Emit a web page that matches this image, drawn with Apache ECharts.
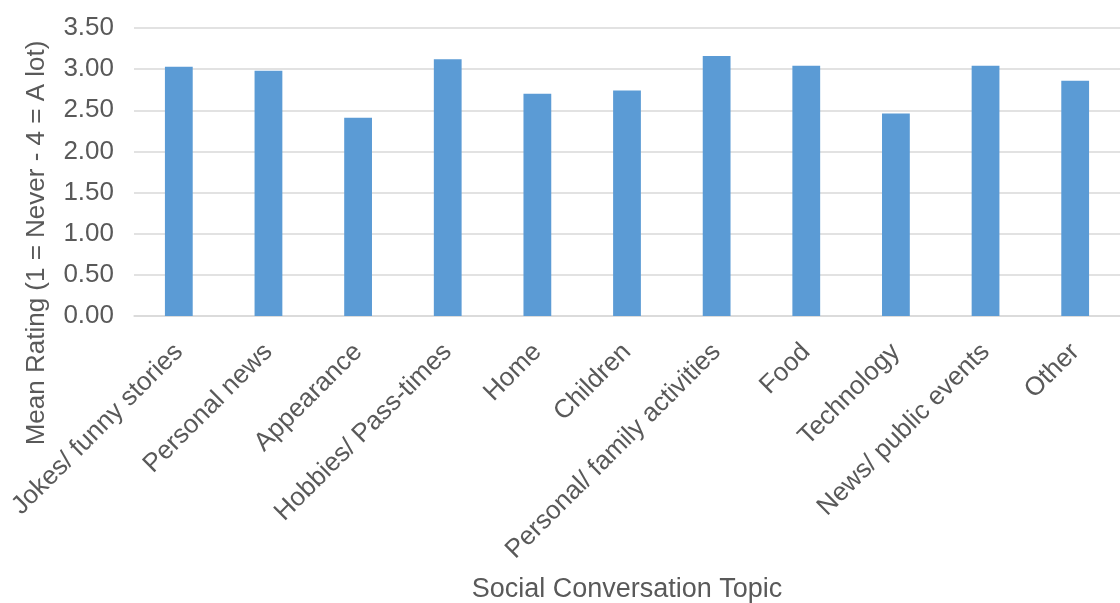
<!DOCTYPE html>
<html>
<head>
<meta charset="utf-8">
<script src="https://cdn.jsdelivr.net/npm/echarts@6/dist/echarts.min.js"></script>
<style>
  html, body { margin: 0; padding: 0; background: #ffffff; }
  #chart { width: 1120px; height: 603px; }
</style>
</head>
<body>
<div id="chart"></div>
<script>
// Social conversation topics and their mean ratings
const topics = [
  'Jokes/ funny stories', 'Personal news', 'Appearance', 'Hobbies/ Pass-times',
  'Home', 'Children', 'Personal/ family activities', 'Food', 'Technology',
  'News/ public events', 'Other'
];
const meanRatings = [3.03, 2.98, 2.41, 3.12, 2.70, 2.74, 3.16, 3.04, 2.46, 3.04, 2.86];

const xTitle = 'Social Conversation Topic';
const yTitle = 'Mean Rating (1 = Never - 4 = A lot)';

const FONT = '"Liberation Sans", Arial, sans-serif';
const TEXT = '#595959';
const GRID = '#d9d9d9';

const chart = echarts.init(document.getElementById('chart'), null, { renderer: 'canvas' });
chart.setOption({
  animation: false,
  backgroundColor: '#ffffff',
  textStyle: { fontFamily: FONT },
  grid: {
    left: 134, right: 0, top: 28, bottom: 287,
    containLabel: false, outerBoundsMode: 'none'
  },
  xAxis: {
    type: 'category',
    data: topics,
    name: xTitle,
    nameLocation: 'middle',
    nameGap: 260,
    nameTextStyle: { fontFamily: FONT, fontSize: 27, color: TEXT },
    axisLine: { lineStyle: { color: GRID, width: 1.5 } },
    axisTick: { show: false },
    axisLabel: {
      rotate: 45, interval: 0, margin: 32,
      fontFamily: FONT, fontSize: 26, color: TEXT
    }
  },
  yAxis: {
    type: 'value',
    min: 0, max: 3.5, interval: 0.5,
    axisLine: { show: false },
    axisTick: { show: false },
    splitLine: { lineStyle: { color: GRID, width: 1.5 } },
    axisLabel: {
      margin: 20, fontFamily: FONT, fontSize: 26, color: TEXT,
      formatter: v => v.toFixed(2)
    }
  },
  graphic: [{
    type: 'text',
    x: 37, y: 243,
    rotation: Math.PI / 2,
    style: {
      text: yTitle,
      fontFamily: FONT, fontSize: 26, fill: TEXT,
      align: 'center', verticalAlign: 'middle'
    }
  }],
  series: [{
    type: 'bar',
    data: meanRatings,
    barWidth: '31%',
    itemStyle: { color: '#5b9bd5' }
  }]
});
</script>
</body>
</html>
